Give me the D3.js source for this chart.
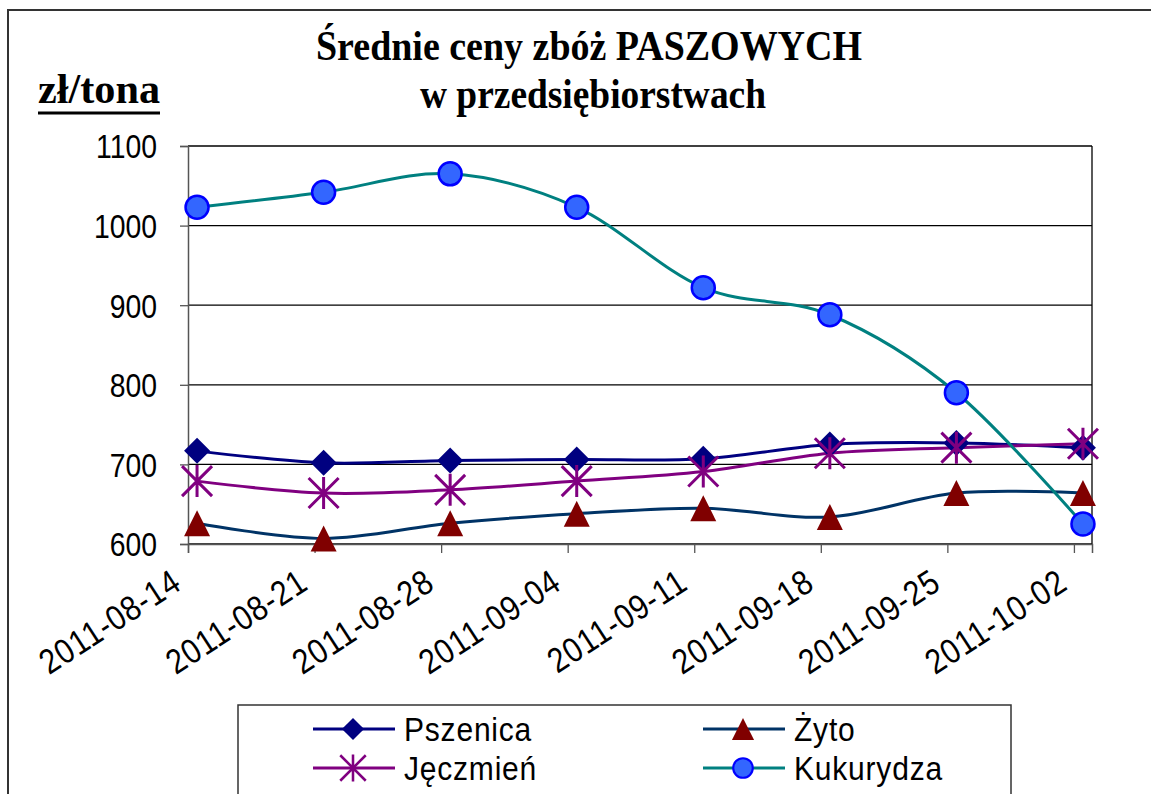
<!DOCTYPE html>
<html>
<head>
<meta charset="utf-8">
<script src="https://cdn.jsdelivr.net/npm/d3@7"></script>
<style>
  html, body { margin: 0; padding: 0; background: #fff; }
  svg { display: block; }
  .axis text { font-family: Arial, "Liberation Sans", sans-serif; fill: #000; }
</style>
</head>
<body>
<div id="chart"></div>
<script>
// data (zł/tona)
var dates = ["2011-08-14", "2011-08-21", "2011-08-28", "2011-09-04",
             "2011-09-11", "2011-09-18", "2011-09-25", "2011-10-02"];
var pszenica  = [717, 702, 705, 706, 707, 725, 727, 721];
var zyto      = [626, 607, 626, 638, 645, 634, 664, 664];
var jeczmien  = [679, 664, 668, 679, 691, 714, 721, 726];
var kukurydza = [1023, 1042, 1065, 1023, 922, 888, 790, 625];
var yTicks = [600, 700, 800, 900, 1000, 1100];

var seriesNames = ["Pszenica", "Żyto", "Jęczmień", "Kukurydza"];

var W = 1151, H = 794;
var margin = {top: 146, right: 59, bottom: 250, left: 188};
var width = W - margin.left - margin.right;
var height = H - margin.top - margin.bottom;

var parse = d3.timeParse("%Y-%m-%d");
var dateObjs = dates.map(parse);

var series = [
  {name: seriesNames[0], values: pszenica,  line: "#000080", marker: "diamond"},
  {name: seriesNames[1], values: zyto,      line: "#003366", marker: "triangle"},
  {name: seriesNames[2], values: jeczmien,  line: "#800080", marker: "star"},
  {name: seriesNames[3], values: kukurydza, line: "#008080", marker: "circle"}
];

var svg = d3.select("#chart").append("svg")
    .attr("width", W)
    .attr("height", H);

// outer chart frame
svg.append("rect")
    .attr("x", 8).attr("y", 10)
    .attr("width", W + 10).attr("height", H + 10)
    .attr("fill", "none")
    .attr("stroke", "#333")
    .attr("stroke-width", 2);

// title
var title = svg.append("g")
    .attr("font-family", "'Times New Roman', 'Liberation Serif', serif")
    .attr("font-weight", "bold")
    .attr("font-size", 42)
    .attr("text-anchor", "middle");
title.append("text")
    .attr("x", 589).attr("y", 60)
    .attr("textLength", 546).attr("lengthAdjust", "spacingAndGlyphs")
    .text("Średnie ceny zbóż PASZOWYCH");
title.append("text")
    .attr("x", 593).attr("y", 108)
    .attr("textLength", 346).attr("lengthAdjust", "spacingAndGlyphs")
    .text("w przedsiębiorstwach");

// unit label
svg.append("text")
    .attr("x", 38).attr("y", 103)
    .attr("font-family", "'Times New Roman', 'Liberation Serif', serif")
    .attr("font-weight", "bold")
    .attr("font-size", 42)
    .attr("textLength", 122).attr("lengthAdjust", "spacingAndGlyphs")
    .text("zł/tona");
svg.append("line")
    .attr("x1", 38).attr("x2", 160)
    .attr("y1", 113).attr("y2", 113)
    .attr("stroke", "#000").attr("stroke-width", 3);

var g = svg.append("g")
    .attr("transform", "translate(" + margin.left + "," + margin.top + ")");

var x = d3.scaleTime()
    .domain([dateObjs[0], d3.timeDay.offset(dateObjs[dateObjs.length - 1], 1)])
    .range([0, width]);

var y = d3.scaleLinear()
    .domain([600, 1100])
    .range([height, 0]);

// gridlines
g.append("g")
  .selectAll("line")
  .data(yTicks)
  .enter().append("line")
    .attr("x1", 0).attr("x2", width)
    .attr("y1", function(d) { return y(d); })
    .attr("y2", function(d) { return y(d); })
    .attr("stroke", "#000")
    .attr("stroke-width", 1.3);

// right border of plot area
g.append("line")
    .attr("x1", width).attr("x2", width)
    .attr("y1", 0).attr("y2", height)
    .attr("stroke", "#000").attr("stroke-width", 1.3);

// y axis
var yAxis = g.append("g")
    .attr("class", "axis")
    .call(d3.axisLeft(y).tickValues(yTicks).tickSize(8).tickFormat(d3.format("d")));
yAxis.select(".domain").attr("stroke", "#555").attr("stroke-width", 1.5);
yAxis.selectAll(".tick line").attr("stroke", "#555").attr("stroke-width", 1.3);
yAxis.selectAll("text")
    .attr("font-size", 33)
    .attr("dy", "0.36em")
    .attr("transform", "scale(0.86,1)")
    .attr("x", -31 / 0.86);

// x axis
var xAxis = g.append("g")
    .attr("class", "axis")
    .attr("transform", "translate(0," + height + ")")
    .call(d3.axisBottom(x).tickValues(dateObjs).tickSize(9)
          .tickFormat(d3.timeFormat("%Y-%m-%d")));
xAxis.select(".domain").attr("stroke", "#555").attr("stroke-width", 1.5);
xAxis.selectAll(".tick line").attr("stroke", "#555").attr("stroke-width", 1.3);
xAxis.selectAll("text")
    .attr("font-size", 31)
    .attr("letter-spacing", 0.9)
    .attr("text-anchor", "end")
    .attr("dy", 0)
    .attr("y", 0)
    .attr("x", 0)
    .attr("transform", "translate(-5,44) rotate(-33) scale(0.97,1.12)");

// lines
var line = d3.line()
    .x(function(d, i) { return x(d3.timeHour.offset(dateObjs[i], 12)); })
    .y(function(d) { return y(d); })
    .curve(d3.curveCatmullRom.alpha(0));

series.forEach(function(s) {
  g.append("path")
      .datum(s.values)
      .attr("fill", "none")
      .attr("stroke", s.line)
      .attr("stroke-width", 3)
      .attr("d", line);
});

// marker drawing
function drawMarker(sel, type) {
  if (type == "diamond") {
    sel.append("path")
        .attr("d", "M0,-13L13,0L0,13L-13,0Z")
        .attr("fill", "#000080");
  } else if (type == "triangle") {
    sel.append("path")
        .attr("d", "M0,-13L13,13L-13,13Z")
        .attr("fill", "#800000");
  } else if (type == "star") {
    sel.append("path")
        .attr("d", "M0,-16L0,16M-15,-15L15,15M-15,15L15,-15")
        .attr("stroke", "#800080")
        .attr("stroke-width", 3)
        .attr("fill", "none");
  } else {
    sel.append("circle")
        .attr("r", 11.5)
        .attr("fill", "#3366FF")
        .attr("stroke", "#0000FF")
        .attr("stroke-width", 2.5);
  }
}

series.forEach(function(s) {
  g.append("g").selectAll("g")
      .data(s.values)
      .enter().append("g")
        .attr("transform", function(d, i) {
          return "translate(" + x(d3.timeHour.offset(dateObjs[i], 12)) + "," + y(d) + ")";
        })
        .each(function() { drawMarker(d3.select(this), s.marker); });
});

// legend
var legend = svg.append("g");
legend.append("rect")
    .attr("x", 238).attr("y", 705)
    .attr("width", 773).attr("height", 120)
    .attr("fill", "#fff")
    .attr("stroke", "#333")
    .attr("stroke-width", 1.5);

var legX = [313, 703];
var legY = [729, 768];
series.forEach(function(s, i) {
  var col = i % 2, row = Math.floor(i / 2);
  var item = legend.append("g")
      .attr("transform", "translate(" + legX[col] + "," + legY[row] + ")");
  item.append("line")
      .attr("x1", 0).attr("x2", 82)
      .attr("stroke", s.line).attr("stroke-width", 3);
  var m = item.append("g").attr("transform", "translate(40,0) scale(0.85)");
  drawMarker(m, s.marker);
  item.append("text")
      .attr("x", 91).attr("y", 0)
      .attr("dy", "0.36em")
      .attr("font-family", "Arial, 'Liberation Sans', sans-serif")
      .attr("font-size", 30)
      .attr("letter-spacing", 0.8)
      .attr("transform", "scale(1,1.08)")
      .text(s.name);
});
</script>
</body>
</html>
